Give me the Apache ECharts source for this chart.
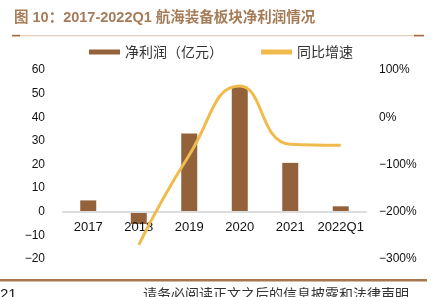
<!DOCTYPE html>
<html>
<head>
<meta charset="utf-8">
<script src="https://cdn.jsdelivr.net/npm/echarts@6/dist/echarts.min.js"></script>
<style>
  html, body { margin: 0; padding: 0; background: #fff; }
  #chart { width: 441px; height: 297px; }
</style>
</head>
<body>
<div id="chart"></div>
<script>
// Net profit of the marine equipment sector, 2017 – 2022Q1
const categories = ['2017', '2018', '2019', '2020', '2021', '2022Q1'];
const netProfit = [4.8, -5.2, 33.1, 52.9, 20.7, 2.3];     // 亿元
const yoyGrowth = [null, -270, -80, 66, -57, -59];      // %
const leftTicks = { min: -20, max: 60, interval: 10 };
const rightTicks = { min: -300, max: 100, interval: 100 };

const minus = v => String(v).replace('-', '−');
const numFont = "'Liberation Sans', Arial, sans-serif";
const cjkFont = "'Liberation Sans', 'Noto Sans CJK SC', sans-serif";

const W = 441, H = 297;
const grid = { left: 63, right: 75, top: 70, bottom: 38 };
// the category axis sits on the zero line of the left value axis
const plotH = H - grid.top - grid.bottom;
const zeroOffset = -plotH * (0 - leftTicks.min) / (leftTicks.max - leftTicks.min);

const chart = echarts.init(document.getElementById('chart'), null, { renderer: 'canvas' });

chart.setOption({
  animation: false,
  backgroundColor: '#fff',
  grid: grid,
  legend: {
    left: 84,
    top: 40,
    itemWidth: 31,
    itemHeight: 5,
    itemGap: 38,
    textStyle: { fontFamily: "'Noto Sans CJK SC', sans-serif", fontSize: 14, color: '#333' },
    data: [
      { name: '净利润（亿元）', icon: 'rect' },
      { name: '同比增速', icon: 'rect', itemStyle: { color: '#f0bb4c' } }
    ]
  },
  xAxis: {
    type: 'category',
    data: categories,
    z: 2,
    offset: zeroOffset,
    axisLine: { onZero: false, lineStyle: { color: '#dcdcdc', width: 2 } },
    axisTick: { show: false },
    axisLabel: { interval: 0, fontFamily: numFont, fontSize: 13, color: '#111', margin: 9 },
    splitLine: { show: false }
  },
  yAxis: [
    {
      type: 'value',
      min: leftTicks.min, max: leftTicks.max, interval: leftTicks.interval,
      axisLine: { show: false },
      axisTick: { show: false },
      splitLine: { show: false },
      axisLabel: { fontFamily: numFont, fontSize: 12, color: '#111', margin: 18, formatter: minus }
    },
    {
      type: 'value',
      min: rightTicks.min, max: rightTicks.max, interval: rightTicks.interval,
      axisLine: { show: false },
      axisTick: { show: false },
      splitLine: { show: false },
      axisLabel: { fontFamily: numFont, fontSize: 12, color: '#111', margin: 13, formatter: v => minus(v) + '%' }
    }
  ],
  series: [
    {
      name: '净利润（亿元）',
      type: 'bar',
      yAxisIndex: 0,
      z: 1,
      barWidth: 16,
      itemStyle: { color: '#93623b' },
      data: netProfit
    },
    {
      name: '同比增速',
      type: 'line',
      yAxisIndex: 1,
      z: 3,
      smooth: 0.5,
      symbol: 'none',
      connectNulls: false,
      lineStyle: { color: '#f0bb4c', width: 3 },
      itemStyle: { color: '#f0bb4c' },
      data: yoyGrowth
    }
  ],
  graphic: [
    {
      type: 'text', left: 14, top: 11,
      style: { text: '图 10：2017-2022Q1 航海装备板块净利润情况', fill: '#a67c58',
               font: "bold 14.5px " + cjkFont }
    },
    { type: 'rect', shape: { x: 12, y: 35, width: 412, height: 1.2 }, style: { fill: '#e3cfba' } },
    { type: 'rect', shape: { x: 12, y: 34.8, width: 8, height: 1.6 }, style: { fill: '#a8693c' } },
    { type: 'rect', shape: { x: 414, y: 34.8, width: 10, height: 1.6 }, style: { fill: '#a8693c' } },
    { type: 'rect', shape: { x: 0, y: 279, width: 427, height: 2.5 }, style: { fill: '#a8774f' } },
    {
      type: 'text', left: 0, top: 287,
      style: { text: '21', fill: '#222', font: "15px " + numFont }
    },
    {
      type: 'text', left: 143, top: 287,
      style: { text: '请务必阅读正文之后的信息披露和法律声明', fill: '#333',
               font: "14px 'Noto Sans CJK SC', sans-serif" }
    }
  ]
});
</script>
</body>
</html>
